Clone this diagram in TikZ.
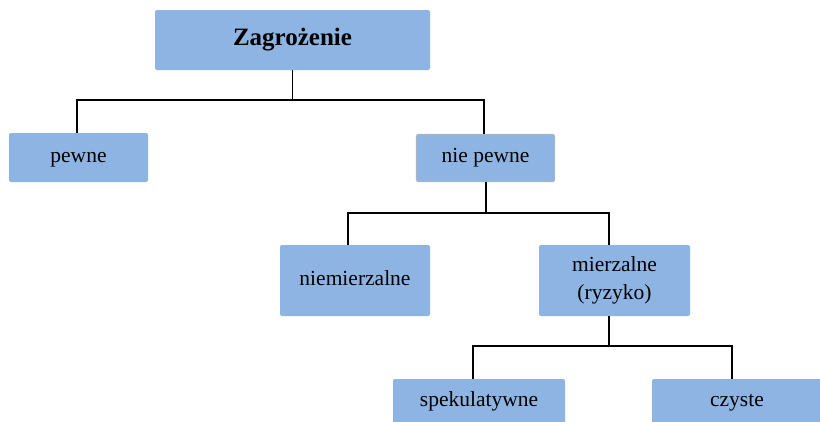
\documentclass[tikz,border=0pt]{standalone}
\usepackage{fontspec}
\setmainfont{Liberation Serif}
\definecolor{boxblue}{HTML}{8EB4E3}
\definecolor{boxedge}{HTML}{A9B4C2}
\begin{document}
\begin{tikzpicture}[x=1pt,y=-1pt,
  box/.style={fill=boxblue, rounded corners=2pt, inner sep=0pt, align=center,
    font=\fontsize{21.5}{28}\selectfont},
  oneline/.style={text height=14.6pt, text depth=4.7pt},
  link/.style={draw=black, line width=1.2pt}]
\useasboundingbox (0,0) rectangle (820,421);
\clip (0,0) rectangle (820,421);
% nodes
\node[box, text height=17pt, text depth=5.5pt, minimum width=275pt, minimum height=60pt,
  font=\fontsize{25}{28}\selectfont\bfseries] (z) at (292.5,40) {Zagrożenie};
\node[box, oneline, minimum width=139pt, minimum height=49pt] (p) at (78.5,157.5) {pewne};
\node[box, oneline, draw=boxedge, line width=1.2pt, minimum width=138pt, minimum height=47pt] (np) at (485.5,158) {nie pewne};
\node[box, oneline, minimum width=150pt, minimum height=71pt] (nm) at (355,280.5) {niemierzalne};
\node[box, minimum width=151pt, minimum height=71pt] (m) at (614.5,280.5) {mierzalne\\(ryzyko)};
\node[box, oneline, minimum width=172pt, minimum height=46pt] (s) at (479,402) {spekulatywne};
\node[box, oneline, minimum width=170pt, minimum height=46pt] (c) at (737,402) {czyste};
% junction points
\coordinate (a1) at (77,100);
\coordinate (a2) at (484,100);
\coordinate (b0) at (486,213);
\coordinate (b1) at (348,213);
\coordinate (b2) at (609,213);
\coordinate (c0) at (609,346);
\coordinate (c1) at (473,346);
\coordinate (c2) at (732,346);
% connectors
\draw[link] (z.south) -- (z.south |- a1);
\draw[link] (p.north -| a1) -- (a1) -- (a2) -- (np.north -| a2);
\draw[link] (np.south -| b0) -- (b0);
\draw[link] (nm.north -| b1) -- (b1) -- (b2) -- (m.north -| b2);
\draw[link] (m.south -| c0) -- (c0);
\draw[link] (s.north -| c1) -- (c1) -- (c2) -- (c.north -| c2);
\end{tikzpicture}
\end{document}
